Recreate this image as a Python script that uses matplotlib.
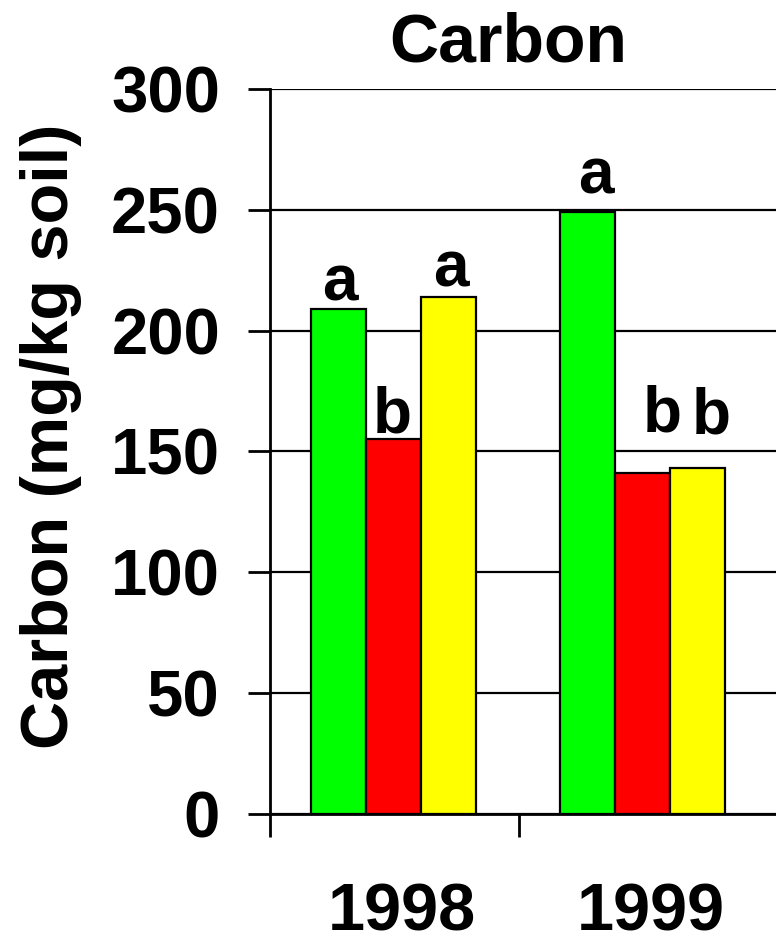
import matplotlib
matplotlib.use("Agg")
import matplotlib.pyplot as plt
import matplotlib.transforms as mtransforms
import numpy as np

# Data
years = ["1998", "1999"]
green = [209, 249]
red = [155, 141]
yellow = [214, 143]
letters_green = ["a", "a"]
letters_red = ["b", "b"]
letters_yellow = ["a", "b"]

plt.rcParams['font.family'] = ['Liberation Sans', 'DejaVu Sans']
plt.rcParams['font.weight'] = 'bold'

## Plot Config
dpi = 100
width = 7.76
height = 9.41
barWidth = 0.221
colors = ["#00ff00", "#ff0000", "#ffff00"]

f = plt.figure(figsize=(width, height), dpi=dpi)
ax = f.add_axes([270 / 776, 127.5 / 941, 506 / 776, 724.2 / 941])

x = np.arange(len(years))
series = [green, red, yellow]
letters = [letters_green, letters_red, letters_yellow]
# letter label nudges in pixels (dx, dy) above each bar top
nudges = [[(2, 8), (9, 19)],
          [(-1, 7), (20, 42)],
          [(3, 10), (14, 35)]]

for i, (vals, col) in enumerate(zip(series, colors)):
    pos = x + (i - 1) * barWidth - 0.005
    bars = ax.bar(pos, vals, barWidth, color=col, edgecolor='black',
                  linewidth=1.6, zorder=3)
    for j, b in enumerate(bars):
        dx, dy = nudges[i][j]
        ax.annotate(letters[i][j], (b.get_x() + b.get_width() / 2, b.get_height()),
                    xytext=(dx, dy), textcoords='offset pixels',
                    ha='center', va='baseline', fontsize=46, fontweight='bold')

# Axes
ax.set_xlim(-0.5, -0.5 + 506 / 249)
ax.set_ylim(0, 300)
ax.set_yticks(np.arange(0, 301, 50))
ax.yaxis.grid(True, color='black', linewidth=1.6, zorder=0)
ax.set_axisbelow(True)
for s in ['top', 'right']:
    ax.spines[s].set_visible(False)
ax.spines['left'].set_linewidth(2)
ax.spines['bottom'].set_linewidth(2)

ax.tick_params(axis='y', direction='out', length=16, width=2, pad=20,
               labelsize=47)
ax.set_xticks(x)
ax.set_xticklabels(years, fontsize=48, fontweight='bold')
ax.tick_params(axis='x', which='major', length=0, pad=50)
ax.set_xticks([-0.5, 0.5], minor=True)
ax.tick_params(axis='x', which='minor', direction='out', length=16.5, width=2)
shift = mtransforms.ScaledTranslation(7 / dpi, 0, f.dpi_scale_trans)
for lab in ax.get_xticklabels():
    lab.set_transform(lab.get_transform() + shift)
for lab in ax.get_yticklabels():
    lab.set_fontweight('bold')

# Labels
f.text(508 / 776, 1 - 62 / 941, "Carbon", ha='center', va='baseline',
       fontsize=49, fontweight='bold')
f.text(51 / 776, 1 - 436 / 941, "Carbon (mg/kg soil)", rotation=90,
       ha='center', va='center', fontsize=48, fontweight='bold')

f.savefig("out.png", dpi=dpi, facecolor='w')
